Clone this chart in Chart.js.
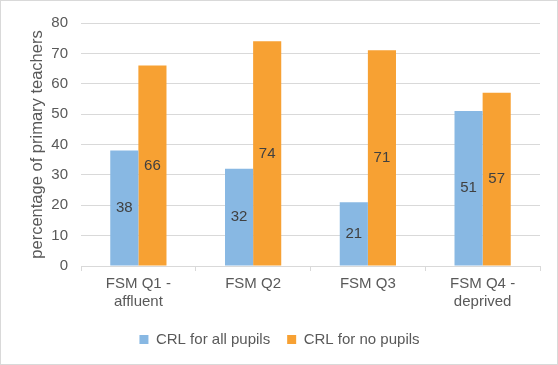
<!DOCTYPE html>
<html>
<head>
<meta charset="utf-8">
<script src="https://cdn.jsdelivr.net/npm/chart.js@4/dist/chart.umd.min.js"></script>
<style>
  html, body { margin: 0; padding: 0; background: #fff; }
  #wrap { width: 556px; height: 363px; border: 1px solid #d9d9d9; }
</style>
</head>
<body>
<div id="wrap"><canvas id="chart" width="556" height="363"></canvas></div>
<script>
// categories and values
var categories = [['FSM Q1 -', 'affluent'], 'FSM Q2', 'FSM Q3', ['FSM Q4 -', 'deprived']];
var crlAll = [38, 32, 21, 51];
var crlNone = [66, 74, 71, 57];
var yTicks = [0, 10, 20, 30, 40, 50, 60, 70, 80];

var font = 'Liberation Sans, Arial, sans-serif';

// labels in the middle of each bar
var barLabels = {
  id: 'barLabels',
  afterDatasetsDraw: function (chart) {
    var ctx = chart.ctx;
    ctx.save();
    ctx.font = '15px ' + font;
    ctx.fillStyle = '#404040';
    ctx.textAlign = 'center';
    ctx.textBaseline = 'middle';
    chart.data.datasets.forEach(function (ds, i) {
      chart.getDatasetMeta(i).data.forEach(function (bar, j) {
        ctx.fillText(ds.data[j], bar.x, (bar.y + bar.base) / 2);
      });
    });
    ctx.restore();
  }
};

new Chart(document.getElementById('chart').getContext('2d'), {
  type: 'bar',
  data: {
    labels: categories,
    datasets: [
      { label: 'CRL for all pupils', data: crlAll, backgroundColor: '#88b8e3' },
      { label: 'CRL for no pupils', data: crlNone, backgroundColor: '#f7a133' }
    ]
  },
  options: {
    responsive: false,
    animation: false,
    categoryPercentage: 0.49,
    barPercentage: 1,
    layout: { padding: { left: 18, right: 17, top: 16, bottom: 7 } },
    plugins: {
      tooltip: { enabled: false },
      legend: {
        position: 'bottom',
        labels: {
          boxWidth: 9,
          boxHeight: 9,
          padding: 17,
          color: '#595959',
          font: { size: 15, family: font }
        }
      }
    },
    scales: {
      x: {
        grid: { display: true, drawOnChartArea: false, color: '#d9d9d9', tickLength: 5 },
        border: { color: '#d9d9d9' },
        ticks: { color: '#595959', font: { size: 15, family: font }, padding: 4 }
      },
      y: {
        min: 0,
        max: 80,
        afterBuildTicks: function (s) { s.ticks = yTicks.map(function (v) { return { value: v }; }); },
        afterFit: function (s) { s.width = 62; },
        grid: { color: '#d9d9d9', drawTicks: false },
        border: { display: false },
        ticks: { color: '#595959', font: { size: 15, family: font }, padding: 13 },
        title: {
          display: true,
          text: 'percentage of primary teachers',
          color: '#595959',
          font: { size: 16.5, family: font },
          padding: { top: 9, bottom: 0 }
        }
      }
    }
  },
  plugins: [barLabels]
});
</script>
</body>
</html>
